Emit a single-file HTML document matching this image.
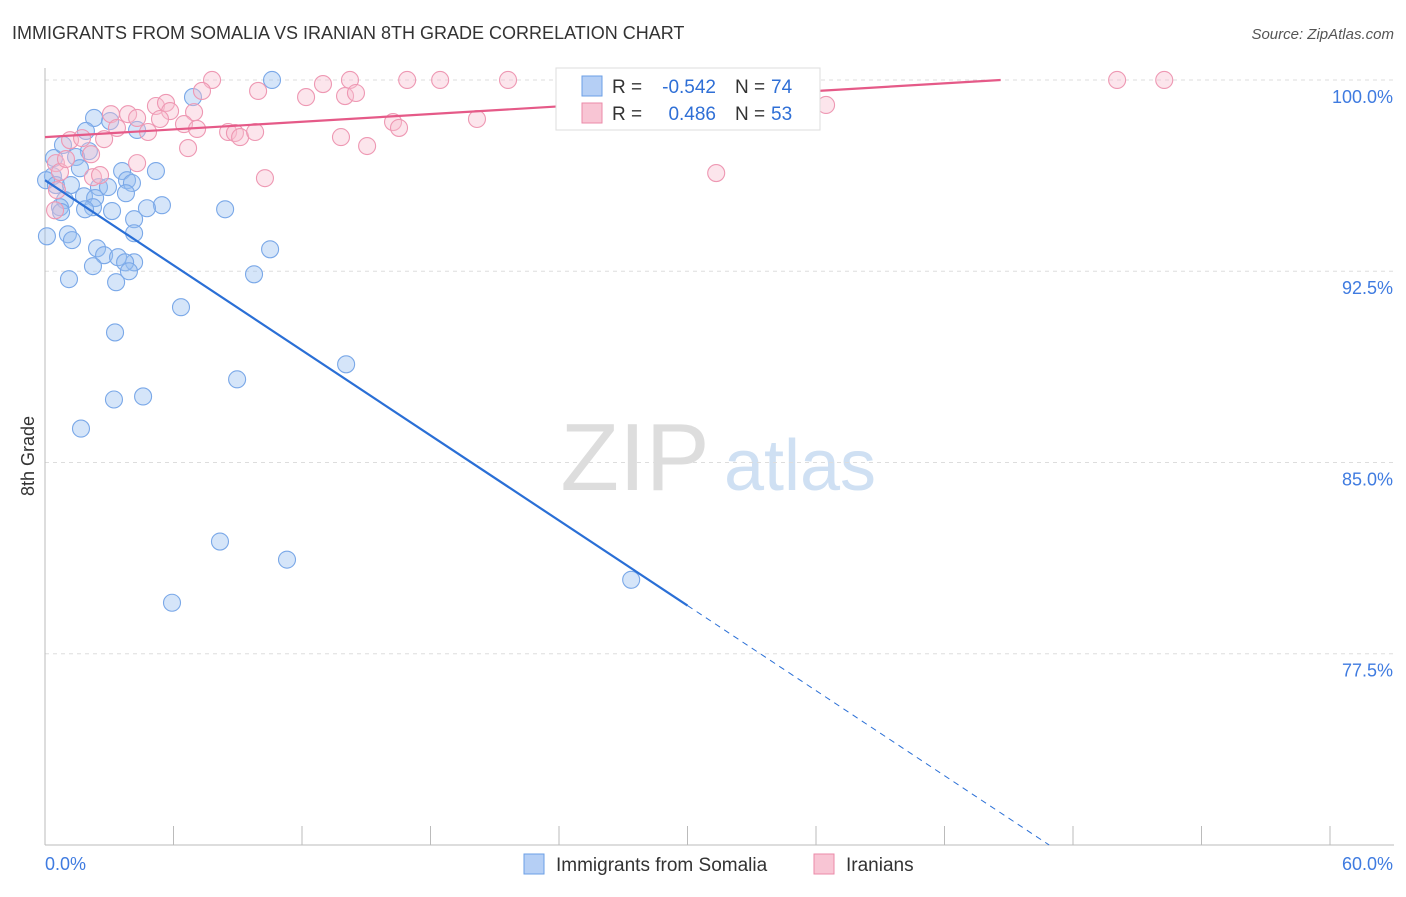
<!DOCTYPE html>
<html><head><meta charset="utf-8"><style>
body{margin:0;background:#fff;font-family:"Liberation Sans",sans-serif;}
svg text{font-family:"Liberation Sans",sans-serif;}
</style></head><body>
<svg id="chart" width="1406" height="892" xmlns="http://www.w3.org/2000/svg">
<text x="12" y="39" font-size="18" fill="#333">IMMIGRANTS FROM SOMALIA VS IRANIAN 8TH GRADE CORRELATION CHART</text>
<text x="1394" y="39" font-size="15" fill="#555" font-style="italic" text-anchor="end">Source: ZipAtlas.com</text>
<text x="34" y="456" font-size="18" fill="#333" text-anchor="middle" transform="rotate(-90 34 456)">8th Grade</text>
<g><text x="635" y="490" font-size="96" fill="#ddd" font-family="Liberation Serif" text-anchor="middle">ZIP</text><text x="800" y="490" font-size="72" fill="#cfe0f3" text-anchor="middle">atlas</text></g>
<g id="grid"></g><g id="axes"></g><g id="pts"></g><g id="lines"></g>
<g>
<rect x="556" y="68" width="264" height="62" fill="#fff" stroke="#ddd"/>
<rect x="582" y="76" width="20" height="20" fill="#b5cff5" stroke="#6b9fe6"/>
<text x="612" y="93" font-size="19" fill="#333">R =</text>
<text x="716" y="93" font-size="19" fill="#2f6fd6" text-anchor="end">-0.542</text>
<text x="735" y="93" font-size="19" fill="#333">N =</text>
<text x="771" y="93" font-size="19" fill="#2f6fd6">74</text>
<rect x="582" y="103" width="20" height="20" fill="#f8c5d4" stroke="#eb8aa8"/>
<text x="612" y="120" font-size="19" fill="#333">R =</text>
<text x="716" y="120" font-size="19" fill="#2f6fd6" text-anchor="end">0.486</text>
<text x="735" y="120" font-size="19" fill="#333">N =</text>
<text x="771" y="120" font-size="19" fill="#2f6fd6">53</text>
</g>
<g>
<rect x="524" y="854" width="20" height="20" fill="#b5cff5" stroke="#6b9fe6"/>
<text x="556" y="871" font-size="19" fill="#333">Immigrants from Somalia</text>
<rect x="814" y="854" width="20" height="20" fill="#f8c5d4" stroke="#eb8aa8"/>
<text x="846" y="871" font-size="19" fill="#333">Iranians</text>
</g>
</svg>
<script>
const xTicks=[0,6,12,18,24,30,36,42,48,54,60];
const yTicks=[100,92.5,85,77.5];
const yTickLabels=["100.0%","92.5%","85.0%","77.5%"];
const blueX=[10.6,6.91,2.29,3.04,4.30,1.91,0.42,0.84,2.05,1.45,1.63,3.60,5.18,0.37,0.05,3.83,4.06,0.51,1.21,2.52,2.94,3.78,1.82,2.34,0.93,0.70,2.24,5.46,4.76,0.75,1.87,3.13,8.41,4.16,1.07,4.16,0.09,1.26,10.51,2.43,2.76,3.41,4.16,3.74,2.24,3.92,9.76,1.12,3.32,6.35,3.27,14.06,8.97,4.58,3.22,1.68,8.17,11.30,27.37,5.93];
const blueY=[100,99.33,98.51,98.39,98.04,98.0,96.94,97.45,97.21,96.98,96.54,96.43,96.43,96.23,96.07,96.07,95.96,95.88,95.88,95.80,95.80,95.56,95.44,95.37,95.29,95.01,95.01,95.09,94.97,94.82,94.93,94.86,94.93,94.54,93.95,93.99,93.87,93.72,93.36,93.40,93.13,93.05,92.85,92.85,92.70,92.50,92.38,92.19,92.07,91.09,90.10,88.85,88.26,87.59,87.47,86.33,81.90,81.19,80.40,79.50];
const pinkX=[7.80,14.24,16.91,18.45,21.62,35.54,50.06,52.26,12.98,7.33,9.95,12.19,14.01,14.52,3.08,3.88,5.18,5.65,4.30,5.84,6.96,6.49,5.37,3.36,4.81,8.55,8.87,9.11,9.81,7.10,16.25,16.53,20.17,36.47,1.17,1.73,2.76,13.82,15.04,6.68,2.15,0.51,0.70,4.30,0.98,2.24,10.27,31.34,2.57,0.56,0.47];
const pinkY=[100,100,100,100,100,100,100,100,99.84,99.57,99.57,99.33,99.37,99.49,98.66,98.66,98.98,99.10,98.51,98.78,98.74,98.27,98.47,98.12,97.96,97.96,97.92,97.76,97.96,98.08,98.35,98.12,98.47,99.02,97.64,97.72,97.68,97.76,97.41,97.33,97.09,96.74,96.39,96.74,96.90,96.19,96.15,96.35,96.27,95.68,94.89];
const blueTrend=[96.07,-0.556];
const pinkTrend=[97.76,0.0502];
const X0=45,X1=1330,Y0=845,Y1=68,xMax=60,yMin=70,yMax=100.47;
const sx=v=>X0+v/xMax*(X1-X0);
const sy=v=>Y0-(v-yMin)/(yMax-yMin)*(Y0-Y1);
const NS="http://www.w3.org/2000/svg";
function mk(tag,attrs,parent){const e=document.createElementNS(NS,tag);for(const k in attrs)e.setAttribute(k,attrs[k]);document.getElementById(parent).appendChild(e);return e;}
yTicks.forEach((t,i)=>{
 const g=mk('line',{x1:X0,x2:1394,y1:sy(t),y2:sy(t),stroke:'#ddd','stroke-dasharray':'4 4'},'grid');
 
 
 const l=mk('text',{x:1393,y:sy(t)+23,'font-size':18,fill:'#3f7be0','text-anchor':'end'},'grid');
 l.textContent=yTickLabels[i];
 
 
});
const ax=mk('line',{x1:X0,x2:X0,y1:68,y2:Y0,stroke:'#bbb'},'axes');


const bx=mk('line',{x1:X0,x2:1394,y1:Y0,y2:Y0,stroke:'#bbb'},'axes');


xTicks.forEach(t=>{
 const k=mk('line',{x1:sx(t),x2:sx(t),y1:826,y2:Y0,stroke:'#bbb'},'axes');
 
 
});
[[0,"0.0%","start",45],[60,"60.0%","end",1393]].forEach(a=>{
 const l=mk('text',{x:a[3],y:870,'font-size':18,fill:'#3f7be0','text-anchor':a[2]},'axes');
 l.textContent=a[1];
 
 
});
blueX.forEach((x,i)=>{
 const c=mk('circle',{cx:sx(x),cy:sy(blueY[i]),r:8.5,fill:'rgba(150,190,240,0.4)',stroke:'#7aa8e8','stroke-width':1.1},'pts');
 
 
});
pinkX.forEach((x,i)=>{
 const c=mk('circle',{cx:sx(x),cy:sy(pinkY[i]),r:8.5,fill:'rgba(248,190,208,0.4)',stroke:'#ee98b3','stroke-width':1.1},'pts');
 
 
});
const bEnd=(yMin-blueTrend[0])/blueTrend[1];
const b1=mk('line',{x1:sx(0),y1:sy(blueTrend[0]),x2:sx(30),y2:sy(blueTrend[0]+blueTrend[1]*30),stroke:'#2a6fd6','stroke-width':2.2},'lines');


const b2=mk('line',{x1:sx(30),y1:sy(blueTrend[0]+blueTrend[1]*30),x2:sx(bEnd),y2:sy(yMin),stroke:'#2a6fd6','stroke-width':1,'stroke-dasharray':'6 5'},'lines');


const pEnd=(100-pinkTrend[0])/pinkTrend[1];
const p1=mk('line',{x1:sx(0),y1:sy(pinkTrend[0]),x2:sx(pEnd),y2:sy(100),stroke:'#e55a88','stroke-width':2.2},'lines');


</script>
</body></html>
